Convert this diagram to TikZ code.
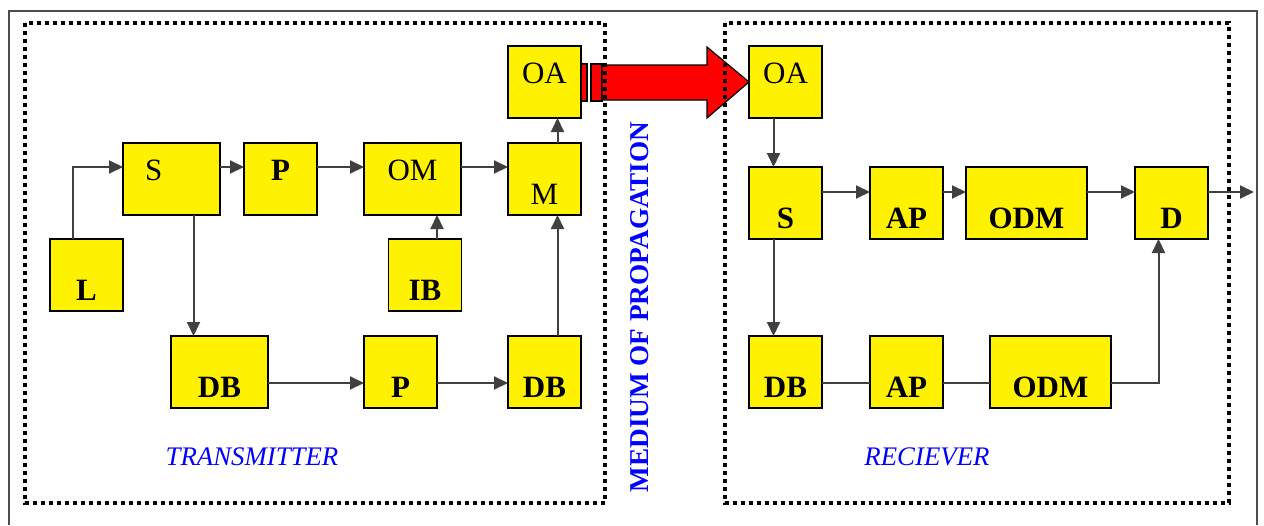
\documentclass[tikz,border=0pt]{standalone}
\usepackage{fontspec}
\setmainfont{Liberation Serif}
\usepackage{tikz}
\usetikzlibrary{positioning,arrows.meta}

\begin{document}
\begin{tikzpicture}[x=0.5pt, y=-0.5pt, >={Triangle[length=7pt,width=6.5pt]}, thick,
  blk/.style={draw=black, line width=0.75pt, fill=yellow, minimum width=36.5pt,
    minimum height=36pt, inner sep=0pt, outer sep=0pt, font=\fontsize{15.5}{18}\selectfont\bfseries},
  reg/.style={font=\fontsize{15.5}{18}\selectfont},
  wide/.style={minimum width=48.5pt},
  wider/.style={minimum width=60.5pt},
  lo/.style={text height=30.5pt, text depth=5.5pt},
  hi/.style={text height=18.5pt, text depth=17.5pt},
  link/.style={->, draw=black!75, line width=1pt},
  plain/.style={draw=black!75, line width=1pt},
  dotbox/.style={line width=1.7pt, dash pattern=on 2pt off 2pt},
  lbl/.style={text=blue, font=\fontsize{13.4}{15}\selectfont\itshape}]

  \useasboundingbox (0,0) rectangle (1264,525);
  \draw[line width=1pt, black!70] (9,525) -- (9,11) -- (1257,11) -- (1257,525);

  % transmitter
  \node[blk, wide, reg, hi, inner xsep=11pt, text width=26.5pt, align=left] (sT) at (171.5,179) {S};
  \node[blk, hi]          (pT)   [right=12pt of sT]      {P};
  \node[blk, wide, reg, hi] (omT) [right=23.5pt of pT]   {OM};
  \node[blk, reg, lo]     (mT)   [right=23.5pt of omT]   {M};
  \node[blk, reg, hi]     (oaT)  [above=12.5pt of mT]    {OA};
  \node[blk, lo]          (lT)   [below left=12pt and 0pt of sT] {L};
  \node[blk, lo]          (ibT)  at (425,275)            {IB};
  \node[blk, wide, lo]    (dbT)  at (219.5,372)          {DB};
  \node[blk, lo]          (p2T)  [right=48pt of dbT]     {P};
  \node[blk, lo]          (db2T) [below=60.5pt of mT]    {DB};

  % receiver
  \node[blk, reg, hi]     (oaR)  at (785.5,82)           {OA};
  \node[blk, lo]          (sR)   [below=24.5pt of oaR]   {S};
  \node[blk, lo]          (apR)  [right=24pt of sR]      {AP};
  \node[blk, wider, lo]   (odmR) [right=11.5pt of apR]   {ODM};
  \node[blk, lo]          (dR)   [right=24pt of odmR]    {D};
  \node[blk, lo]          (dbR)  [below=48.5pt of sR]    {DB};
  \node[blk, lo]          (ap2R) [right=24pt of dbR]     {AP};
  \node[blk, wider, lo]   (odm2R)[right=23.5pt of ap2R]  {ODM};
  \coordinate (out) at (1254,192);

  \draw[link] ([xshift=-7pt]lT.north) |- ([yshift=6pt]sT.west);
  \draw[link] ([yshift=6pt]sT.east) -- ([yshift=6pt]pT.west);
  \draw[link] ([yshift=6pt]pT.east) -- ([yshift=6pt]omT.west);
  \draw[link] ([yshift=6pt]omT.east) -- ([yshift=6pt]mT.west);
  \draw[link] ([xshift=6pt]ibT.north) -- ([xshift=6pt]ibT.north |- omT.south);
  \draw[link] ([xshift=6.5pt]mT.north) -- ([xshift=6.5pt]mT.north |- oaT.south);
  \draw[link] ([xshift=11pt]sT.south) -- ([xshift=11pt]sT.south |- dbT.north);
  \draw[link] ([yshift=-5.5pt]dbT.east) -- ([yshift=-5.5pt]p2T.west);
  \draw[link] ([yshift=-5.5pt]p2T.east) -- ([yshift=-5.5pt]db2T.west);
  \draw[link] ([xshift=6.5pt]db2T.north) -- ([xshift=6.5pt]db2T.north |- mT.south);

  \draw[link] ([xshift=-6pt]oaR.south) -- ([xshift=-6pt]oaR.south |- sR.north);
  \draw[link] ([yshift=5.5pt]sR.east) -- ([yshift=5.5pt]apR.west);
  \draw[link] ([yshift=5.5pt]apR.east) -- ([yshift=5.5pt]odmR.west);
  \draw[link] ([yshift=5.5pt]odmR.east) -- ([yshift=5.5pt]dR.west);
  \draw[link] ([yshift=5.5pt]dR.east) -- (out);
  \draw[link] ([xshift=-6pt]sR.south) -- ([xshift=-6pt]sR.south |- dbR.north);
  \draw[plain] ([yshift=-5.5pt]dbR.east) -- ([yshift=-5.5pt]ap2R.west);
  \draw[plain] ([yshift=-5.5pt]ap2R.east) -- ([yshift=-5.5pt]odm2R.west);
  \draw[link] ([yshift=-5.5pt]odm2R.east) -| ([xshift=-6.5pt]dR.south);

  % big red arrow across the medium
  \draw[fill=red, line width=0.6pt] (oaT.east |- 0,64) rectangle (587,101);
  \draw[fill=red, line width=0.6pt] (591,64) rectangle (602,101);
  \draw[fill=red, line width=0.6pt] (602,65) -- (707,65) -- (707,47) -- (oaR.west)
    -- (707,118) -- (707,100) -- (602,100) -- cycle;

  \draw[dotbox] (25,23) rectangle (605,503);
  \draw[dotbox] (725,23) rectangle (1229,503);

  \node[lbl] (txlbl) at (252,457) {TRANSMITTER};
  \node[lbl] (rxlbl) at (927,457) {RECIEVER};
  \node[text=blue, font=\fontsize{13.6}{15}\selectfont\bfseries, rotate=90] (medium) at (640,307) {MEDIUM OF PROPAGATION};
\end{tikzpicture}
\end{document}
